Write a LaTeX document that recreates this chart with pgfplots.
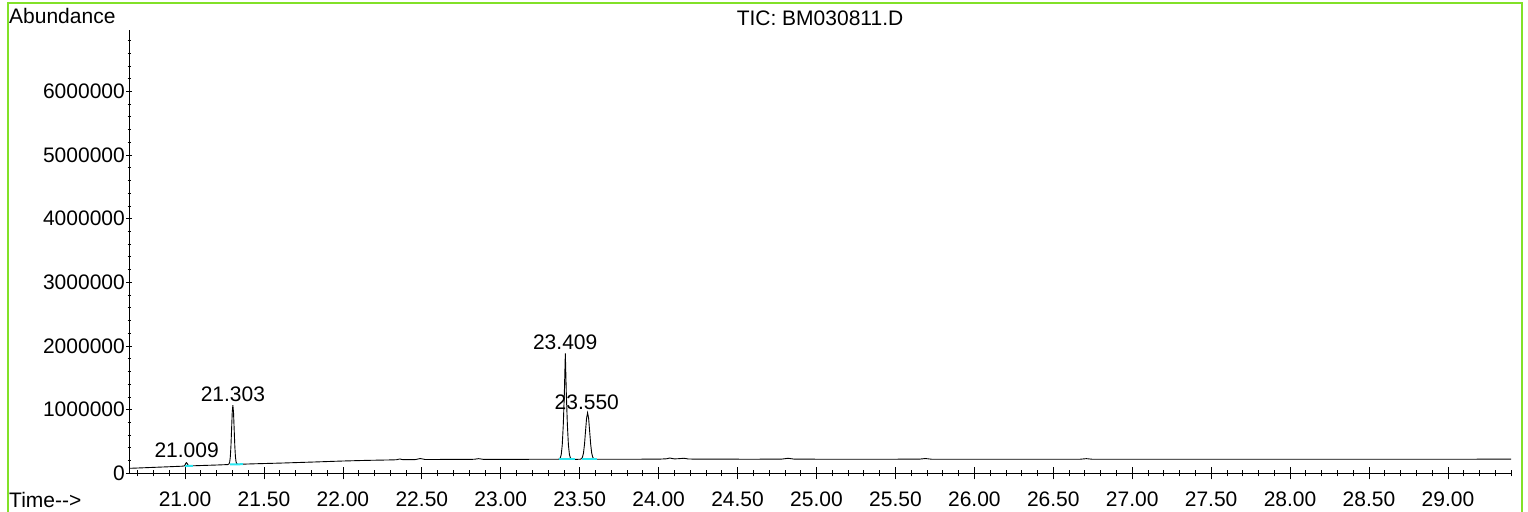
\documentclass[border=0pt]{standalone}
\usepackage{fontspec}
\setmainfont{Liberation Sans}
\usepackage{pgfplots}
\pgfplotsset{compat=1.18}
\definecolor{framegreen}{RGB}{130,225,40}
\definecolor{intcyan}{RGB}{40,230,240}
\pgfplotsset{
  common/.style={
    at={(129bp,38.7bp)}, anchor=south west,
    scale only axis, width=1382bp, height=443bp,
    xmin=20.645, xmax=29.4, ymin=0, ymax=6960000,
    tick align=outside,
    scaled x ticks=false, scaled y ticks=false,
    every tick label/.append style={font=\fontsize{21bp}{25bp}\selectfont},
    clip=false,
  }
}
\begin{document}
\fontsize{21bp}{25bp}\selectfont
\begin{tikzpicture}[x=1bp,y=1bp]
\useasboundingbox (0,0) rectangle (1528,512);
\draw[framegreen, line width=1.5bp] (8,-20) rectangle (1522,509);
% y axis with its own tick lengths
\begin{axis}[common,
  axis x line=none, axis y line=left,
  axis line style={-, line width=0.9bp, black},
  ytick={0,1000000,2000000,3000000,4000000,5000000,6000000},
  yticklabels={0,1000000,2000000,3000000,4000000,5000000,6000000},
  minor ytick={200000,400000,...,6900000},
  major tick length=6bp, minor tick length=3bp,
  ytick style={black, line width=0.8bp},
  yticklabel style={inner sep=1bp},
]
\end{axis}
% x axis and data
\begin{axis}[common,
  axis x line=bottom, axis y line=none,
  axis line style={-, line width=0.9bp, black},
  xtick={21,21.5,22,22.5,23,23.5,24,24.5,25,25.5,26,26.5,27,27.5,28,28.5,29},
  xticklabels={21.00,21.50,22.00,22.50,23.00,23.50,24.00,24.50,25.00,25.50,26.00,26.50,27.00,27.50,28.00,28.50,29.00},
  minor xtick={20.7,20.8,...,29.45},
  major tick length=12bp, minor tick length=6bp,
  xtick style={black, line width=0.8bp},
  xticklabel style={yshift=-5bp},
]
\addplot[black, line width=0.9bp] coordinates {
(20.645,78000)(20.70,83000)(20.80,93000)(20.90,103000)(20.985,112000)
(20.993,115000)(20.997,121000)(21.001,136000)(21.005,157000)(21.009,167000)
(21.013,157000)(21.017,139000)(21.021,124000)(21.025,118000)(21.033,116000)
(21.04,117000)(21.10,122000)(21.20,130000)(21.27,137000)
(21.279,149000)(21.283,179000)(21.287,264000)(21.291,441000)(21.295,703000)
(21.299,960000)(21.303,1070000)(21.307,961000)(21.311,705000)(21.315,443000)
(21.319,267000)(21.323,182000)(21.327,152000)(21.335,142000)(21.36,143000)
(21.45,150000)(21.60,160000)(21.80,176000)(22.00,193000)(22.15,203000)
(22.30,210000)(22.34,213000)(22.36,225000)(22.38,214000)(22.46,216000)
(22.49,232000)(22.52,217000)(22.70,218000)(22.83,220000)(22.86,230000)
(22.89,219000)(23.00,219000)(23.20,220000)(23.3635,221000)
(23.370,223700)(23.3765,238500)(23.383,293100)(23.3895,445300)(23.396,760600)
(23.4025,1229800)(23.409,1885000)(23.4155,1229800)(23.422,760600)(23.4285,445300)
(23.435,293100)(23.4415,238500)(23.448,223700)(23.4545,221000)(23.48,219000)
(23.5045,221600)(23.511,228100)(23.5175,252000)(23.524,318800)(23.5305,457000)
(23.537,662700)(23.5435,864200)(23.550,950000)(23.5565,864200)(23.563,662700)
(23.5695,457000)(23.576,318800)(23.5825,252000)(23.589,228100)(23.5955,221600)
(23.62,221000)(23.80,221000)(24.00,222000)(24.05,228000)(24.07,240000)
(24.10,226000)(24.13,230000)(24.16,236000)(24.19,224000)(24.40,222000)
(24.60,221000)(24.78,223000)(24.82,236000)(24.86,222000)(25.10,221000)
(25.40,221000)(25.65,222000)(25.69,232000)(25.73,221000)(26.00,221000)
(26.30,220000)(26.67,221000)(26.71,230000)(26.75,220000)(27.00,220000)
(27.50,220000)(28.00,221000)(28.50,220000)(29.00,221000)(29.40,222000)
};
\addplot[intcyan, line width=2bp] coordinates {(21.00,114000)(21.05,118000)};
\addplot[intcyan, line width=2bp] coordinates {(21.285,139000)(21.367,143000)};
\addplot[intcyan, line width=2bp] coordinates {(23.369,220000)(23.47,220000)};
\addplot[intcyan, line width=2bp] coordinates {(23.514,220000)(23.61,220000)};
\node[inner sep=0pt] at (axis cs:21.01,358000) {21.009};
\node[inner sep=0pt] at (axis cs:21.303,1245000) {21.303};
\node[inner sep=0pt] at (axis cs:23.408,2060000) {23.409};
\node[inner sep=0pt] at (axis cs:23.545,1110000) {23.550};
\end{axis}
\node[inner sep=0pt, anchor=west] at (9,496) {Abundance};
\node[inner sep=0pt, anchor=west] at (9,12) {Time-{}-{}>};
\node[inner sep=0pt] at (820,494) {TIC: BM030811.D};
\end{tikzpicture}
\end{document}
